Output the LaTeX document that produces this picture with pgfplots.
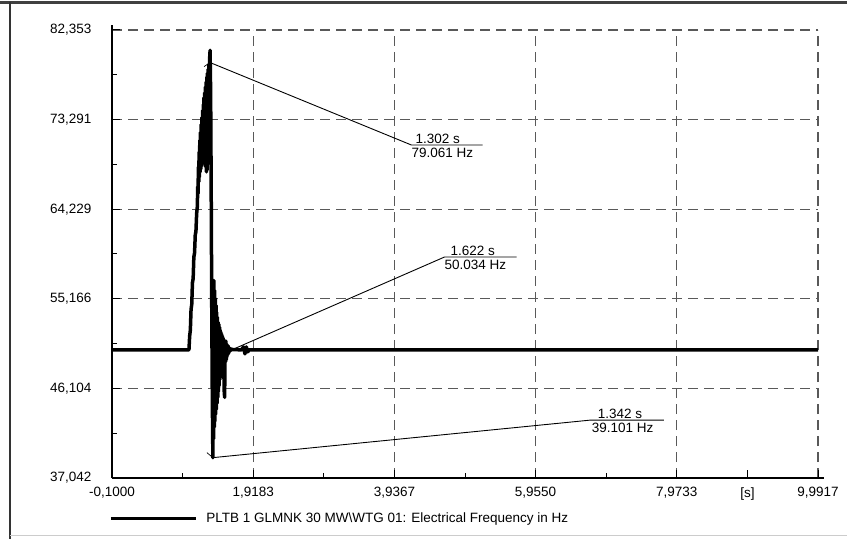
\documentclass[border=0pt]{standalone}
\usepackage{fontspec}
\setmainfont{Liberation Sans}
\usepackage{pgfplots}
\pgfplotsset{compat=1.18}
\newcommand{\fs}{\fontsize{13.5}{16}\selectfont}
\begin{document}
\begin{tikzpicture}
\useasboundingbox (0pt,0pt) rectangle (847pt,539pt);
\fill[white] (0pt,0pt) rectangle (847pt,539pt);
\draw[line width=3pt, black!75] (0pt,536pt) -- (847pt,536pt);
\draw[line width=2pt, black!80] (10pt,537pt) -- (10pt,0pt);
\draw[line width=1pt, black!20] (10pt,4pt) -- (847pt,4pt);
\begin{axis}[
  at={(112pt,61pt)}, anchor=south west,
  scale only axis, width=706pt, height=448pt,
  xmin=-0.1, xmax=9.9917, ymin=37.042, ymax=82.353,
  axis lines=left,
  axis line style={-, line width=1.5pt, black},
  x axis line style={shorten >=-6pt},
  y axis line style={shorten >=-5pt},
  xtick={-0.1,1.9183,3.9367,5.955,7.9733,9.9917},
  xticklabels={{-0,1000},{1,9183},{3,9367},{5,9550},{7,9733},{9,9917}},
  minor xtick={0.90915,2.9275,4.94585,6.96415,8.9825},
  ytick={37.042,46.104,55.166,64.229,73.291,82.353},
  yticklabels={{37,042},{46,104},{55,166},{64,229},{73,291},{82,353}},
  minor ytick={41.573,50.635,59.6975,68.76,77.822},
  extra x ticks={8.9825},
  extra x tick labels={{[s]}},
  extra x tick style={grid=none},
  grid=major,
  major grid style={black!65, line width=1.2pt, dash pattern=on 10pt off 6pt},
  tick align=inside,
  major tick length=8pt, minor tick length=5pt,
  tick style={black, line width=1pt},
  every tick label/.append style={font=\fs},
  yticklabel style={xshift=-17pt},
  xticklabel style={yshift=-6pt},
  legend style={at={(axis description cs:-0.004,-0.0893)}, anchor=west, draw=none, fill=none, inner sep=0pt, font=\fs},
  legend cell align=left,
  legend image code/.code={\draw[line width=3pt,black] (0pt,0pt) -- (85pt,0pt);},
]
\addplot[black, line width=3.5pt, line join=round] coordinates {
(-0.1,50) (1.00,50) (1.01,51.4) (1.02,52.0) (1.03,54.1) (1.04,54.6) (1.05,56.8)
(1.06,57.2) (1.07,59.4) (1.08,59.8) (1.09,61.6) (1.10,62.0) (1.11,63.8) (1.12,64.5)
(1.125,66.5) (1.13,65.8) (1.135,68.5) (1.14,67.0) (1.145,70.0) (1.15,67.5)
(1.155,71.2) (1.16,68.0) (1.165,72.0) (1.17,68.3) (1.175,72.8) (1.18,68.6)
(1.185,73.5) (1.19,68.8) (1.195,74.2) (1.20,69.0) (1.205,74.8) (1.21,69.5)
(1.215,75.5) (1.22,70.0) (1.225,76.0) (1.23,69.2) (1.235,76.6) (1.24,68.5)
(1.245,77.1) (1.25,68.0) (1.255,77.6) (1.26,68.2) (1.265,78.0) (1.27,68.8)
(1.275,78.4) (1.28,70.5) (1.285,78.9) (1.29,72.5) (1.295,79.4)
(1.302,80.3) (1.31,76.0) (1.318,66.0) (1.326,54.0) (1.334,45.0) (1.342,39.1)
(1.347,55.5) (1.352,41.0) (1.357,57.0) (1.362,42.2) (1.367,56.0) (1.372,42.8)
(1.377,55.2) (1.382,43.5) (1.387,54.5) (1.392,44.0) (1.397,53.8) (1.402,44.6)
(1.407,53.3) (1.412,45.2) (1.417,52.8) (1.422,45.8) (1.427,52.6) (1.432,46.4)
(1.437,52.3) (1.442,47.0) (1.447,52.0) (1.452,47.5) (1.457,51.8) (1.462,47.9)
(1.467,51.6) (1.472,48.2) (1.477,51.4) (1.482,48.0) (1.487,51.2) (1.492,47.2)
(1.497,51.0) (1.502,46.0) (1.510,45.2) (1.518,50.8) (1.523,48.8) (1.528,50.9)
(1.533,49.0) (1.538,50.6) (1.543,49.3) (1.548,50.5) (1.555,49.5) (1.56,50.4)
(1.57,49.7) (1.58,50.2) (1.59,49.9) (1.60,50.1) (1.622,50.034) (1.75,50.0)
(1.78,50.3) (1.80,49.6) (1.82,50.3) (1.84,49.8) (1.86,50.0) (9.9917,50.0)
};
\addlegendentry{\hspace{7pt}PLTB 1 GLMNK 30 MW\textbackslash WTG 01: Electrical Frequency in Hz}
% annotations
\draw[black, line width=0.9pt] (axis cs:1.302,79.061) -- (axis cs:4.18,70.72) -- (axis cs:5.196,70.72);
\draw[black, line width=0.7pt] (axis cs:1.302,79.061) -- ++(-6pt,-4pt);
\node[anchor=base west, inner sep=0pt, xshift=4pt, yshift=2pt, font=\fs] at (axis cs:4.18,70.72) {1.302 s};
\node[anchor=north west, inner sep=0pt, yshift=-3pt, font=\fs] at (axis cs:4.18,70.72) {79.061 Hz};
\draw[black, line width=0.9pt] (axis cs:1.622,50.034) -- (axis cs:4.652,59.39) -- (axis cs:5.683,59.39);
\draw[black, line width=0.7pt] (axis cs:1.622,50.034) -- ++(-5pt,3pt);
\node[anchor=base west, inner sep=0pt, xshift=6pt, yshift=2pt, font=\fs] at (axis cs:4.652,59.39) {1.622 s};
\node[anchor=north west, inner sep=0pt, yshift=-3pt, font=\fs] at (axis cs:4.652,59.39) {50.034 Hz};
\draw[black, line width=0.9pt] (axis cs:1.342,39.101) -- (axis cs:6.742,42.90) -- (axis cs:7.787,42.90);
\draw[black, line width=0.7pt] (axis cs:1.342,39.101) -- ++(-6pt,5pt);
\node[anchor=base west, inner sep=0pt, xshift=7pt, yshift=2pt, font=\fs] at (axis cs:6.742,42.90) {1.342 s};
\node[anchor=north west, inner sep=0pt, xshift=1pt, yshift=-3pt, font=\fs] at (axis cs:6.742,42.90) {39.101 Hz};
\end{axis}
\end{tikzpicture}
\end{document}
